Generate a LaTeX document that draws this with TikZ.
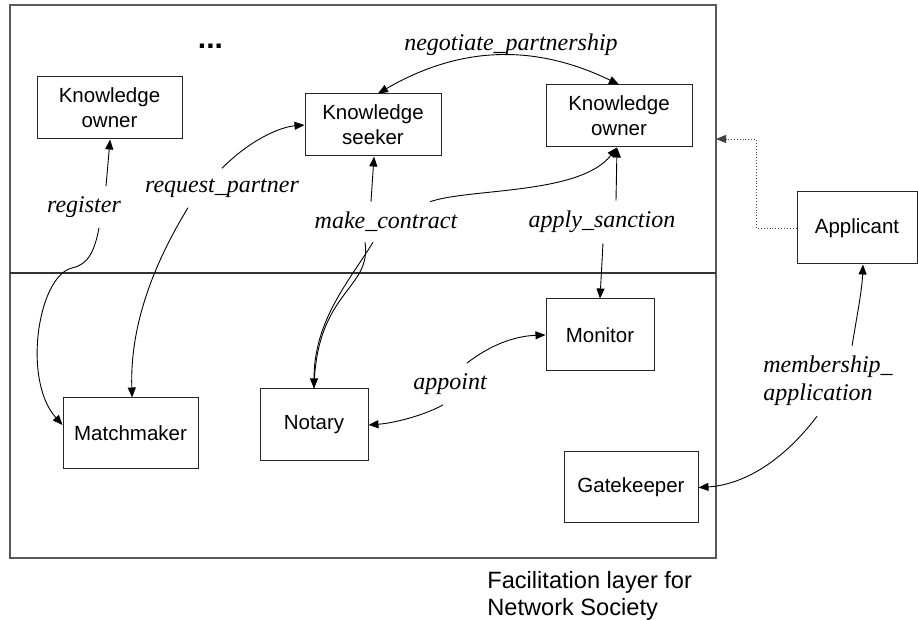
\documentclass[tikz,border=0pt]{standalone}
\usepackage{fontspec}
\setmainfont{Liberation Serif}
\setsansfont{Liberation Sans}
\usetikzlibrary{arrows.meta,positioning,calc}

\begin{document}
\begin{tikzpicture}[x=0.5pt, y=-0.5pt,
    agent/.style={draw=black!85, line width=0.5pt, inner sep=0pt, align=center,
        font=\sffamily\fontsize{10.25}{12.5}\selectfont},
    act/.style={inner xsep=1pt, inner ysep=5pt, font=\itshape\fontsize{12}{14}\selectfont},
    conn/.style={-{Triangle[length=5pt,width=4pt]}, line width=0.45pt},
    twoway/.style={{Triangle[length=5pt,width=4pt]}-{Triangle[length=5pt,width=4pt]}, line width=0.45pt},
    applink/.style={-{Triangle[length=5pt,width=4pt]}, densely dotted, black!75, line width=0.45pt}]
    \useasboundingbox (0,0) rectangle (918,620);

    % Facilitation layer
    \draw[black!65, line width=0.6pt] (10,5) rectangle (716,558);
    \draw[black!80, line width=1pt] (10,273) -- (716,273);
    \coordinate (entry) at (716,139);
    \node[anchor=north west, inner sep=0pt, align=left,
        font=\sffamily\fontsize{11.8}{13.5}\selectfont] (caption) at (487,571)
        {Facilitation layer for\\Network Society};
    \node[font=\sffamily\bfseries\fontsize{15}{18}\selectfont, inner sep=0pt] (dots) at (210.5,46) {...};

    % Agents
    \node[agent, minimum width=72.5pt, minimum height=31pt] (ko1) at (109.5,108) {Knowledge\\owner};
    \node[agent, minimum width=68pt, minimum height=31pt] (ks) at (373,125) {Knowledge\\seeker};
    \node[agent, minimum width=73pt, minimum height=31pt] (ko2) at (619,116) {Knowledge\\owner};
    \node[agent, minimum width=60pt, minimum height=36pt] (app) at (857,228) {Applicant};
    \node[agent, minimum width=54pt, minimum height=36pt] (mon) at (600,335) {Monitor};
    \node[agent, minimum width=67pt, minimum height=35.5pt] (gate) at (631,487.5) {Gatekeeper};
    \node[agent, minimum width=67.5pt, minimum height=35.5pt] (match) at (130.5,433.5) {Matchmaker};
    \node[agent, minimum width=54pt, minimum height=36pt] (notary) at (314,425) {Notary};

    % Interaction labels
    \node[act] (lneg) at (511,45) {negotiate\_partnership};
    \node[act] (lreg) at (84,207) {register};
    \node[act] (lreq) at (222,188) {request\_partner};
    \node[act] (lmake) at (386,222) {make\_contract};
    \node[act] (lapply) at (602,222) {apply\_sanction};
    \node[act] (lappoint) at (450,384) {appoint};
    \node[act, anchor=west, align=left] (lmem) at (761,381) {membership\_\\application};

    % Interactions
    \draw[conn] ([xshift=11pt]lreg.north) -- ([xshift=0.3pt]ko1.south);
    \draw[conn] ([xshift=7.5pt]lreg.south) .. controls (94,255) and (86,265) .. (72,268)
        .. controls (38,276) and (22,380) .. ([yshift=4.25pt]match.west);
    \draw[conn] (lreq.north) .. controls (250,140) and (280,127) .. (ks.west);
    \draw[conn] ([xshift=-17pt]lreq.south) .. controls (150,270) and (130,330) .. ([xshift=0.8pt]match.north);
    \draw[twoway] ([xshift=2.5pt]ks.north) to[bend left=28] (ko2.north);
    \draw[conn] ([xshift=-7.5pt]lmake.north) -- ([xshift=0.5pt]ks.south);
    \draw[conn] ([xshift=22pt]lmake.north) .. controls (470,188) and (580,195) .. ([xshift=-1pt]ko2.south);
    \draw[conn] ([xshift=-6.5pt]lmake.south) .. controls (350,280) and (314,320) .. (notary.north);
    \draw[line width=0.45pt] ([xshift=-10.5pt]lmake.south) .. controls (372,290) and (316,290) .. (notary.north);
    \draw[conn] ([xshift=7pt]lapply.north) -- ([xshift=-1pt]ko2.south);
    \draw[conn] ([xshift=0.5pt]lapply.south) -- (mon.north);
    \draw[conn] ([xshift=8.5pt]lappoint.north) .. controls (490,345) and (515,336) .. (mon.west);
    \draw[conn] ([xshift=-3.5pt]lappoint.south) .. controls (425,415) and (395,423) .. (notary.east);
    \draw[conn] ([xshift=12pt]lmem.north) .. controls (858,310) and (862,290) .. ([xshift=3pt]app.south);
    \draw[conn] ([xshift=-5.5pt]lmem.south) .. controls (780,465) and (740,485) .. (gate.east);
    \draw[applink] (app.west) -- (756,228) |- (entry);
\end{tikzpicture}
\end{document}
